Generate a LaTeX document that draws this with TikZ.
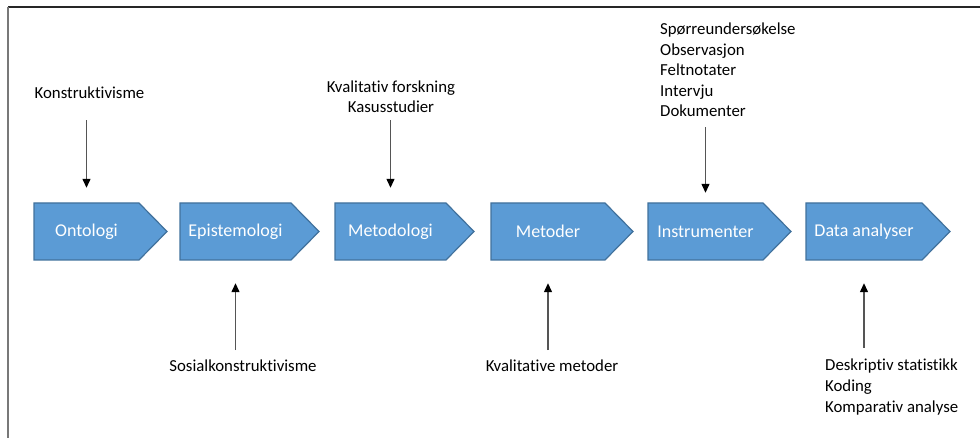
\documentclass[tikz,border=0pt]{standalone}
\usepackage{fontspec}
\setmainfont{Carlito}[Ligatures=NoCommon]
\usetikzlibrary{arrows.meta,positioning,calc}
\definecolor{stepfill}{RGB}{91,155,213}
\definecolor{stepedge}{RGB}{65,113,156}
\definecolor{framegray}{RGB}{120,120,120}
\definecolor{arrowgray}{RGB}{85,85,85}

\tikzset{
  stepshape/.style={fill=stepfill, draw=stepedge, line width=1.2pt, line join=miter},
  steptext/.style={minimum height=57pt, inner sep=0pt, text=white, font=\fontsize{18}{21}\selectfont},
  infotext/.style={inner sep=0pt, align=left, font=\fontsize{16.8}{20.6}\selectfont},
  pil/.style={-{Triangle[width=8pt,length=9pt,color=black]}, draw=arrowgray, line width=1.3pt},
}

\begin{document}
\begin{tikzpicture}[x=1pt, y=-1pt]
    \useasboundingbox (0,0) rectangle (980,438);

    % ramme
    \draw[black!85, line width=1.5pt] (8,7) -- (980,7);
    \draw[framegray, line width=2pt] (8,7) -- (8,438);

    % trinn
    \foreach \x/\w/\n/\t in {34/133/onto/Ontologi, 180/139/epis/Epistemologi, 335/139/metodologi/Metodologi, 491/142/metoder/Metoder, 648/143/instr/Instrumenter, 806/144/analyse/Data analyser} {
        \draw[stepshape] (\x,203) -- (\x+\w-28,203) -- (\x+\w,231.5) -- (\x+\w-28,260) -- (\x,260) -- cycle;
        \node[steptext] (\n) at (\x+\w/2-14,231.5) {\t};
    }

    % tekst over (base = siste linje)
    \node[infotext, anchor=base] (konst) at (89.5,99) {Konstruktivisme};
    \node[infotext, anchor=base, align=center] (kval) at (391,113) {Kvalitativ forskning\\Kasusstudier};
    \node[infotext, anchor=base west] (instrliste) at (660,117) {Spørreundersøkelse\\Observasjon\\Feltnotater\\Intervju\\Dokumenter};

    % tekst under
    \node[infotext, anchor=base] (sosial) at (243,371) {Sosialkonstruktivisme};
    \node[infotext, anchor=base] (kvalmet) at (552,371) {Kvalitative metoder};
    \node[infotext, anchor=base west] (analyseliste) at (825,412) {Deskriptiv statistikk\\Koding\\Komparativ analyse};

    % piler
    \draw[pil, shorten <=21pt, shorten >=15pt] (onto.north |- konst.south) -- (onto.north);
    \draw[pil, shorten <=7pt, shorten >=15pt] (metodologi.north |- kval.south) -- (metodologi.north);
    \draw[pil, shorten <=10pt, shorten >=10pt] (instr.north |- instrliste.south) -- (instr.north);
    \draw[pil, shorten <=9pt, shorten >=23pt] (epis.south |- sosial.north) -- (epis.south);
    \draw[pil, shorten <=9pt, shorten >=23pt] (metoder.south |- kvalmet.north) -- (metoder.south);
    \draw[pil, shorten <=11pt, shorten >=23pt] (analyse.south |- analyseliste.north) -- (analyse.south);
\end{tikzpicture}
\end{document}
